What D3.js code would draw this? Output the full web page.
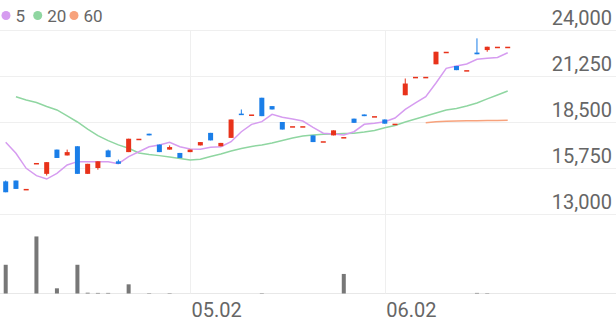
<!DOCTYPE html>
<html>
<head>
<meta charset="utf-8">
<script src="https://cdn.jsdelivr.net/npm/d3@7/dist/d3.min.js"></script>
<style>
  body { margin: 0; background: #fff; }
  svg { display: block; font-family: Roboto, "Noto Sans", sans-serif; }
</style>
</head>
<body>
<svg id="chart" width="616" height="321"></svg>
<script>
// trading days shown on the chart
var dates = ["04.06","04.07","04.08","04.11","04.12","04.13","04.14","04.15","04.18","04.19",
  "04.20","04.21","04.22","04.25","04.26","04.27","04.28","04.29","05.02","05.03",
  "05.04","05.06","05.09","05.10","05.11","05.12","05.13","05.16","05.17","05.18",
  "05.19","05.20","05.23","05.24","05.25","05.26","05.27","06.02","06.03","06.07",
  "06.08","06.09","06.10","06.13","06.14","06.15","06.16","06.17","06.20","06.21"];

var open = [14950,15000,14500,16050,15400,16850,16500,17050,15400,15750,
  16800,16150,16700,17500,17800,17150,16850,16650,16700,17100,
  17850,17050,17550,19000,18950,19950,19450,18500,18250,18250,
  17700,17350,17700,17600,18700,18950,18850,18650,18400,20100,
  21200,21200,21950,22700,21850,21600,22650,22800,23000,23000];
var high = [15000,15000,14500,16050,16100,16850,16850,17050,16000,16150,
  16850,16250,17500,17500,17800,17150,17100,16650,16850,17300,
  17850,17250,18650,19250,18950,19950,19450,18500,18250,18250,
  17700,17350,18000,17600,18700,18950,18850,18650,18400,21100,
  21200,21200,22700,22700,21850,21600,23500,23000,23000,23000];
var low = [14300,14500,14500,16050,15300,16350,16500,15400,15400,15650,
  16400,16000,16700,17500,17700,16700,16850,16350,16700,17100,
  17400,17050,17550,18950,18950,18850,19250,18050,18250,18250,
  17300,17350,17700,17600,18450,18850,18850,18400,18400,20100,
  21200,21200,21950,22700,21600,21600,22550,22700,23000,23000];
var close = [14300,14500,14500,16050,16100,16350,16700,15400,16000,16150,
  16400,16000,17500,17500,17700,16700,17000,16350,16850,17300,
  17400,17250,18650,18950,18950,18850,19250,18050,18250,18250,
  17300,17350,18000,17600,18450,18850,18850,18400,18400,20800,
  21200,21200,22700,22700,21600,21600,22550,23000,23000,23000];

var volume = [720000,0,0,1430000,0,130000,0,720000,20000,15000,
  15000,0,230000,0,10000,0,10000,0,0,0,
  0,0,0,0,0,10000,0,0,0,0,
  0,0,0,490000,0,0,0,0,0,0,
  0,0,0,0,0,0,15000,10000,0,0];

// moving averages as drawn (they depend on days before the window)
var ma5 = [17290,16630,15730,15290,15090,15430,15930,16130,16130,16130,
  16130,16010,16430,16720,17020,17130,17290,17020,16890,16870,
  16990,17020,17320,17920,18360,18520,18960,18780,18680,18560,
  18180,17830,17780,17720,17920,18360,18420,18520,18740,19250,
  19640,20010,20830,21710,21850,21970,22250,22310,22360,22640];
var ma20 = [null,20010,19820,19670,19430,19220,18860,18500,18080,17690,
  17390,17130,16930,16650,16560,16490,16410,16320,16230,16270,
  16440,16590,16770,16920,17040,17130,17250,17390,17540,17660,
  17720,17770,17780,17810,17830,17900,17990,18160,18290,18500,
  18680,18860,19040,19220,19310,19460,19640,19880,20110,20350];
var ma60 = [null,null,null,null,null,null,null,null,null,null,
  null,null,null,null,null,null,null,null,null,null,
  null,null,null,null,null,null,null,null,null,null,
  null,null,null,null,null,null,null,null,null,null,
  null,18460,18510,18550,18560,18570,18580,18585,18590,18600];

var priceTicks = [13000, 15750, 18500, 21250, 24000];
var dateTicks = ["05.02", "06.02"];
var maNames = ["5", "20", "60"];
var maColors = ["#d69cf0", "#8fd6a1", "#f7a27c"];

var upColor = "#e8321a";
var downColor = "#1a7ee8";
var gridColor = "#efefef";

var svg = d3.select("#chart");
var W = 616;

var x = d3.scalePoint()
  .domain(dates)
  .range([5.7, 507.7]);

var y = d3.scaleLinear()
  .domain([13000, 24000])
  .range([214, 30]);

var yVol = d3.scaleLinear()
  .domain([0, 1980000])
  .range([293.5, 214.5]);

// grid
var grid = svg.append("g");
grid.selectAll("line.h")
  .data(priceTicks)
  .enter().append("line")
    .attr("x1", 0).attr("x2", W)
    .attr("y1", d => Math.round(y(d)) + 0.5)
    .attr("y2", d => Math.round(y(d)) + 0.5)
    .attr("stroke", gridColor);
grid.append("line")
  .attr("x1", 0).attr("x2", W)
  .attr("y1", 293.5).attr("y2", 293.5)
  .attr("stroke", "#e8e8e8");
grid.selectAll("line.v")
  .data(dateTicks)
  .enter().append("line")
    .attr("x1", d => Math.round(x(d)) + 0.5)
    .attr("x2", d => Math.round(x(d)) + 0.5)
    .attr("y1", 30).attr("y2", 293.5)
    .attr("stroke", gridColor);

// price labels
svg.append("g").selectAll("text")
  .data(priceTicks)
  .enter().append("text")
    .attr("x", 612)
    .attr("y", d => y(d) - 5)
    .attr("text-anchor", "end")
    .attr("font-size", 20)
    .attr("fill", "#666")
    .text(d => d3.format(",")(d));

// date labels
svg.append("g").selectAll("text")
  .data(dateTicks)
  .enter().append("text")
    .attr("x", d => x(d) + 1.5)
    .attr("y", 316.5)
    .attr("font-size", 20)
    .attr("fill", "#666")
    .text(d => d);

// volume
svg.append("g").selectAll("rect")
  .data(dates)
  .enter().append("rect")
    .attr("x", d => x(d) - 2)
    .attr("width", 4)
    .attr("y", (d, i) => yVol(volume[i]))
    .attr("height", (d, i) => yVol(0) - yVol(volume[i]))
    .attr("fill", "#777");

// moving averages
var maLine = function(vals) {
  return d3.line()
    .defined((d, i) => vals[i] != null)
    .x(d => x(d))
    .y((d, i) => y(vals[i]))(dates);
};
[ma60, ma20, ma5].forEach(function(vals, k) {
  svg.append("path")
    .attr("d", maLine(vals))
    .attr("fill", "none")
    .attr("stroke", maColors[2 - k])
    .attr("stroke-width", 1.5);
});

// candles
var candles = svg.append("g").selectAll("g")
  .data(dates)
  .enter().append("g")
    .attr("fill", (d, i) => close[i] >= open[i] ? upColor : downColor)
    .attr("stroke", (d, i) => close[i] >= open[i] ? upColor : downColor);

candles.append("line")
  .attr("x1", d => x(d)).attr("x2", d => x(d))
  .attr("y1", (d, i) => y(high[i]))
  .attr("y2", (d, i) => y(low[i]))
  .attr("stroke-width", 1);

candles.append("rect")
  .attr("stroke", "none")
  .attr("x", d => x(d) - 2.5)
  .attr("width", 5)
  .attr("y", (d, i) => y(Math.max(open[i], close[i])))
  .attr("height", (d, i) => Math.max(1.5, y(Math.min(open[i], close[i])) - y(Math.max(open[i], close[i]))));

// legend
var legend = svg.append("g");
var legendX = [6, 37.7, 74];
maNames.forEach(function(name, k) {
  legend.append("circle")
    .attr("cx", legendX[k]).attr("cy", 15.5).attr("r", 4.5)
    .attr("fill", maColors[k]);
  legend.append("text")
    .attr("x", legendX[k] + 9.5)
    .attr("y", 21.5)
    .attr("font-size", 17)
    .attr("fill", "#666")
    .text(name);
});
</script>
</body>
</html>
